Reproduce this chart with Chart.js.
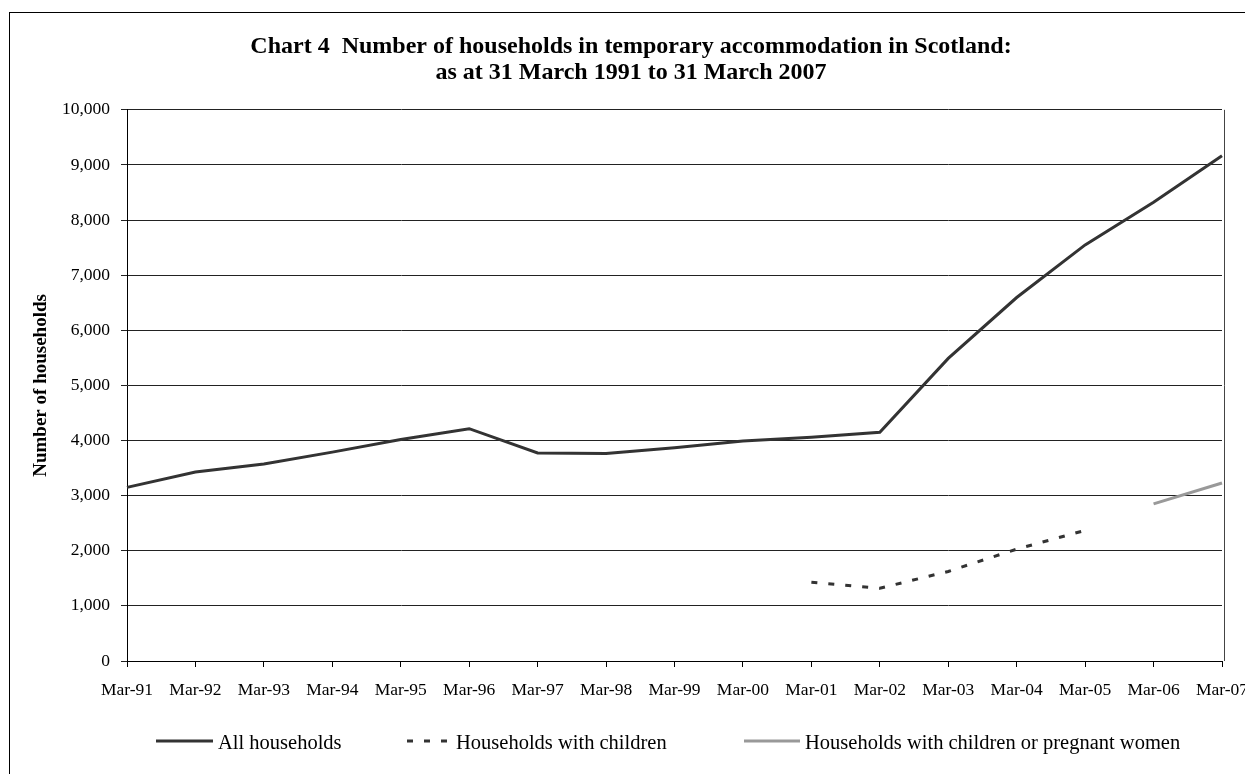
<!DOCTYPE html>
<html>
<head>
<meta charset="utf-8">
<title>Chart 4</title>
<script src="https://cdn.jsdelivr.net/npm/chart.js@4.4.1/dist/chart.umd.min.js"></script>
<style>
  html, body { margin: 0; padding: 0; background: #fff; overflow: hidden; }
  #wrap { position: relative; width: 1245px; height: 774px; }
</style>
</head>
<body>
<div id="wrap"><canvas id="chart" width="1245" height="774"></canvas></div>
<script>
// Data
const categories = ['Mar-91', 'Mar-92', 'Mar-93', 'Mar-94', 'Mar-95', 'Mar-96', 'Mar-97', 'Mar-98',
  'Mar-99', 'Mar-00', 'Mar-01', 'Mar-02', 'Mar-03', 'Mar-04', 'Mar-05', 'Mar-06', 'Mar-07'];
const allHouseholds = [3150, 3430, 3575, 3790, 4020, 4215, 3775, 3765,
  3870, 3990, 4060, 4150, 5490, 6595, 7550, 8325, 9165];
const withChildren = [null, null, null, null, null, null, null, null,
  null, null, 1430, 1320, 1625, 2030, 2370, null, null];
const childrenOrPregnant = [null, null, null, null, null, null, null, null,
  null, null, null, null, null, null, null, 2850, 3230];
const seriesNames = ['All households', 'Households with children', 'Households with children or pregnant women'];
const titleLines = ['Chart 4  Number of households in temporary accommodation in Scotland:',
  'as at 31 March 1991 to 31 March 2007'];
const yMin = 0, yMax = 10000, yStep = 1000;

const serif = "'Liberation Serif', 'Times New Roman', serif";

// Outer frame, right border of plot and the legend
const decorPlugin = {
  id: 'decor',
  beforeDraw(chart) {
    const ctx = chart.ctx;
    ctx.save();
    ctx.fillStyle = '#fff';
    ctx.fillRect(0, 0, chart.width, chart.height);
    ctx.strokeStyle = '#000';
    ctx.lineWidth = 1;
    ctx.strokeRect(9.5, 12.5, chart.width + 20, chart.height + 20);
    ctx.restore();
  },
  beforeDatasetsDraw(chart) {
    const a = chart.chartArea;
    const ctx = chart.ctx;
    ctx.save();
    ctx.strokeStyle = '#444';
    ctx.lineWidth = 1;
    ctx.beginPath();
    ctx.moveTo(Math.round(a.right) + 2.5, a.top);
    ctx.lineTo(Math.round(a.right) + 2.5, a.bottom);
    ctx.stroke();
    ctx.restore();
  },
  afterDraw(chart) {
    const ctx = chart.ctx;
    const slots = [
      { x: 156, len: 57, textX: 218 },
      { x: 407, len: 41, textX: 456 },
      { x: 744, len: 56, textX: 805 }
    ];
    ctx.save();
    ctx.font = '20.5px ' + serif;
    ctx.textBaseline = 'alphabetic';
    chart.data.datasets.forEach(function(ds, i) {
      const s = slots[i];
      ctx.strokeStyle = ds.borderColor;
      ctx.lineWidth = 3;
      ctx.setLineDash(ds.borderDash || []);
      ctx.beginPath();
      ctx.moveTo(s.x, 741);
      ctx.lineTo(s.x + s.len, 741);
      ctx.stroke();
      ctx.setLineDash([]);
      ctx.fillStyle = '#000';
      ctx.fillText(ds.label, s.textX, 749);
    });
    ctx.restore();
  }
};

const ctx = document.getElementById('chart').getContext('2d');
new Chart(ctx, {
  type: 'line',
  data: {
    labels: categories,
    datasets: [
      {
        label: seriesNames[0],
        data: allHouseholds,
        borderColor: '#333333',
        borderWidth: 3,
        pointRadius: 0,
        tension: 0,
        spanGaps: false
      },
      {
        label: seriesNames[1],
        data: withChildren,
        borderColor: '#333333',
        borderWidth: 3,
        borderDash: [6, 11],
        pointRadius: 0,
        tension: 0
      },
      {
        label: seriesNames[2],
        data: childrenOrPregnant,
        borderColor: '#999999',
        borderWidth: 3,
        pointRadius: 0,
        tension: 0
      }
    ]
  },
  options: {
    responsive: false,
    animation: false,
    devicePixelRatio: 1,
    layout: { padding: { left: 17, right: 0, top: 12, bottom: 73 } },
    plugins: {
      legend: { display: false },
      tooltip: { enabled: false },
      title: {
        display: true,
        text: titleLines,
        color: '#000',
        font: { family: serif, size: 24, weight: 'bold', lineHeight: 1.08 },
        padding: { top: 22, bottom: 24 }
      }
    },
    scales: {
      x: {
        offset: false,
        grid: { drawOnChartArea: false, drawTicks: true, tickLength: 6, color: '#000' },
        border: { color: '#000', width: 1 },
        ticks: {
          autoSkip: false,
          maxRotation: 0,
          padding: 13,
          color: '#000',
          font: { family: serif, size: 17.5 }
        },
        afterFit(s) {
          s.paddingLeft = 0;
          s.paddingRight = 23;
          s.height = 40;
        }
      },
      y: {
        min: yMin,
        max: yMax,
        grid: { color: '#222', tickLength: 6 },
        border: { color: '#000', width: 1 },
        ticks: {
          stepSize: yStep,
          padding: 11,
          color: '#000',
          font: { family: serif, size: 17.5 },
          callback: v => v.toLocaleString('en-US')
        },
        title: {
          display: true,
          text: 'Number of households',
          color: '#000',
          font: { family: serif, size: 19, weight: 'bold' },
          padding: { top: 13, bottom: 0 }
        },
        afterFit(s) {
          s.width = 110;
        }
      }
    }
  },
  plugins: [decorPlugin]
});
</script>
</body>
</html>
